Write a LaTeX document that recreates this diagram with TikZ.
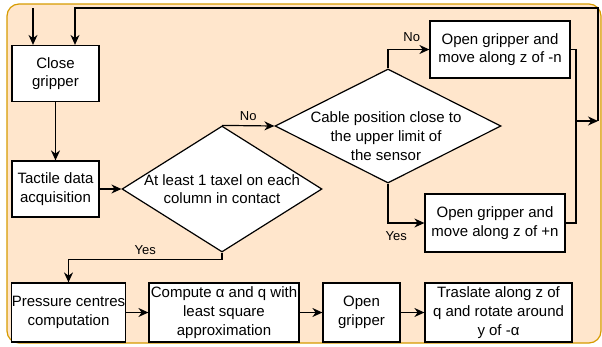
\documentclass[tikz,border=0pt]{standalone}
\usepackage{fontspec}
\setmainfont{Liberation Sans}
\usetikzlibrary{shapes.geometric,arrows.meta,calc}
\definecolor{bgfill}{HTML}{FFE6CC}
\definecolor{bgdraw}{HTML}{D79B00}
\tikzset{
  box/.style={draw=black, fill=white, line width=1.2pt, inner sep=0pt, align=center,
    font=\fontsize{15}{18.7}\selectfont},
  dia/.style={draw=black, fill=white, line width=1.2pt, diamond, inner sep=0pt},
  dtext/.style={align=center, font=\fontsize{15}{18.7}\selectfont, inner sep=0pt},
  arr/.style={line width=1.2pt, -{Stealth[length=10pt,width=9pt]}},
  ln/.style={line width=1.2pt},
  lbl/.style={font=\fontsize{13}{15}\selectfont, inner sep=0pt}
}
\begin{document}
\begin{tikzpicture}[x=1pt,y=-1pt]
\useasboundingbox (0,0) rectangle (602,346);
\fill[bgfill, draw=bgdraw, line width=1.2pt, rounded corners=12pt] (7,4) rectangle (601,343);

\node[box, minimum width=87pt, minimum height=56pt] (close) at (55.5,73.5) {Close\\gripper};
\node[box, minimum width=87pt, minimum height=56pt] (tact) at (55.5,189) {Tactile data\\acquisition};
\node[dia, minimum width=200pt, minimum height=126pt] (d1) at (222,189) {};
\node[dtext] (d1t) at (222,189) {At least 1 taxel on each\\column in contact};
\node[dia, minimum width=226pt, minimum height=114pt] (d2) at (388,126) {};
\node[dtext] (d2t) at (386,136) {Cable position close to\\the upper limit of\\the sensor};
\node[box, minimum width=140pt, minimum height=57pt] (mn) at (500,49.5) {Open gripper and\\move along z of -n};
\node[box, minimum width=140pt, minimum height=58pt] (pn) at (495,223) {Open gripper and\\move along z of +n};
\node[box, minimum width=113pt, minimum height=59pt] (press) at (68.5,312.5) {Pressure centres\\computation};
\node[box, minimum width=150pt, minimum height=59pt] (comp) at (224,312.5) {Compute α and q with\\least square\\approximation};
\node[box, minimum width=77pt, minimum height=59pt] (openg) at (361.5,312.5) {Open\\gripper};
\node[box, minimum width=147pt, minimum height=59pt] (trasl) at (498.5,312.5) {Traslate along z of\\q and rotate around\\y of -α};

\coordinate (s) at (33,8);
\coordinate (m1) at (576,121);
\coordinate (m2) at (576,223);
\coordinate (r) at (598,121);
\coordinate (t) at (598,8);

\draw[arr] (s) -- (s |- close.north);
\draw[arr] (close) -- (tact);
\draw[arr] (tact) -- (d1.west);
\draw[arr] (d1.north) -- (d2.west) node[lbl, midway, above=4pt] {No};
\draw[arr] (d2.north) |- (mn.west) node[lbl, pos=0.75, above=7pt, xshift=3pt] {No};
\draw[arr] (d2.south) |- (pn.west) node[lbl, pos=0.6, below=8pt, xshift=1pt] {Yes};
\draw[arr] (d1.south) -- ++(0,7) -| (press.north) node[lbl, pos=0.25, above=4pt] {Yes};
\draw[arr] (press) -- (comp);
\draw[arr] (comp) -- (openg);
\draw[arr] (openg) -- (trasl);
\draw[ln] (mn.east) -| (m2) -- (pn.east);
\draw[arr] (m1) -- (r);
\draw[arr] (r) -- (t) -| ([xshift=19.5pt]close.north);
\end{tikzpicture}
\end{document}
